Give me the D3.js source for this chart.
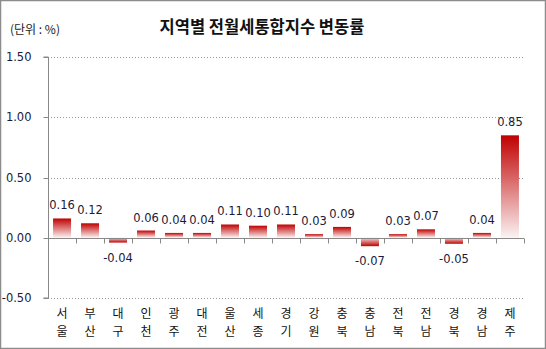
<!DOCTYPE html>
<html><head><meta charset="utf-8">
<script src="https://cdn.jsdelivr.net/npm/d3@7"></script>
<style>body{margin:0;background:#fff}svg{display:block}</style>
</head><body>
<script>
const categories = ["서울","부산","대구","인천","광주","대전","울산","세종","경기","강원","충북","충남","전북","전남","경북","경남","제주"];
const values = [0.16,0.12,-0.04,0.06,0.04,0.04,0.11,0.10,0.11,0.03,0.09,-0.07,0.03,0.07,-0.05,0.04,0.85];
const yTicks = [-0.5,0,0.5,1.0,1.5];
const title = "지역별 전월세통합지수 변동률";
const unitLabel = "(단위 : %)";

const W=546,H=349;
const fmt=d=>d3.format(".2f")(d).replace("−","-");
const svg=d3.select("body").append("svg").attr("width",W).attr("height",H);
svg.append("rect").attr("x",0.5).attr("y",0.5).attr("width",W-1).attr("height",H-1).attr("fill","#fff").attr("stroke","#8c8c8c").attr("stroke-width",1.5);

const defs=svg.append("defs");
const gUp=defs.append("linearGradient").attr("id","gUp").attr("x1",0).attr("y1",0).attr("x2",0).attr("y2",1);
gUp.append("stop").attr("offset","0%").attr("stop-color","#c00000");
gUp.append("stop").attr("offset","100%").attr("stop-color","#fbf2f2");
const gDn=defs.append("linearGradient").attr("id","gDn").attr("x1",0).attr("y1",1).attr("x2",0).attr("y2",0);
gDn.append("stop").attr("offset","0%").attr("stop-color","#c00000");
gDn.append("stop").attr("offset","100%").attr("stop-color","#f3dada");

const x=d3.scaleBand().domain(categories).range([48,524]).paddingInner(0.357).paddingOuter(0.18);
const xb=d3.scaleBand().domain(categories).range([48,524]);
const y=d3.scaleLinear().domain([-0.5,1.5]).range([298,57]);

svg.append("text").attr("x",262).attr("y",33).attr("text-anchor","middle")
 .attr("font-family","Noto Sans CJK KR").attr("font-weight","bold").attr("font-size",16.5).attr("fill","#111").text(title);
svg.append("text").attr("x",10).attr("y",34).attr("font-family","Noto Sans CJK KR").attr("font-size",12).attr("fill","#222").text(unitLabel);

// gridlines
svg.append("g").selectAll("line").data(yTicks.filter(d=>d!==0)).join("line")
 .attr("x1",48).attr("x2",524).attr("y1",d=>Math.round(y(d))+0.5).attr("y2",d=>Math.round(y(d))+0.5)
 .attr("stroke","#999").attr("stroke-dasharray","1,2");

// y axis
const ya=svg.append("g").attr("transform","translate(48.5,0)").call(d3.axisLeft(y).tickValues(yTicks).tickFormat(fmt).tickSize(5).tickPadding(12));
ya.select(".domain").attr("stroke","#888").attr("d",`M-5,${y(1.5)}H0V${y(-0.5)}H-5`);
ya.selectAll(".tick line").attr("stroke","#888");
ya.selectAll(".tick").attr("transform",d=>`translate(0,${Math.round(y(d))+0.5})`);
ya.selectAll("text").attr("font-family","DejaVu Sans").attr("font-size",11.5).attr("fill","#1a1a3a");

// bars
svg.append("g").selectAll("rect").data(values).join("rect")
 .attr("x",(d,i)=>x(categories[i])).attr("width",x.bandwidth())
 .attr("y",d=>d>=0?y(d):y(0)).attr("height",d=>Math.abs(y(d)-y(0)))
 .attr("fill",d=>d>=0?"url(#gUp)":"url(#gDn)");

// zero axis
const z=Math.round(y(0))+0.5;
const xa=svg.append("g").attr("transform",`translate(0,${z})`).call(d3.axisBottom(xb).tickSize(0).tickFormat(""));
xa.select(".domain").attr("stroke","#888").attr("d","M48,0H524");
svg.append("g").selectAll("line").data(d3.range(categories.length+1)).join("line")
 .attr("x1",i=>Math.round(48+i*xb.step())+0.5).attr("x2",i=>Math.round(48+i*xb.step())+0.5)
 .attr("y1",z).attr("y2",z+5).attr("stroke","#888");

// value labels
svg.append("g").selectAll("text").data(values).join("text")
 .attr("x",(d,i)=>x(categories[i])+x.bandwidth()/2)
 .attr("y",d=>d>=0?y(d)-9:y(d)+19)
 .attr("text-anchor","middle").attr("font-family","DejaVu Sans").attr("font-size",11.5).attr("fill","#1a1a3a")
 .text(fmt);

// category labels (two lines, one character each)
[0,1].forEach(li=>{
  svg.append("g").selectAll("text").data(categories).join("text")
   .attr("x",c=>xb(c)+xb.bandwidth()/2).attr("y",318+li*17.6)
   .attr("text-anchor","middle").attr("font-family","Noto Sans CJK KR").attr("font-size",12).attr("fill","#111")
   .text(c=>c[li]);
});
</script>
</body></html>
